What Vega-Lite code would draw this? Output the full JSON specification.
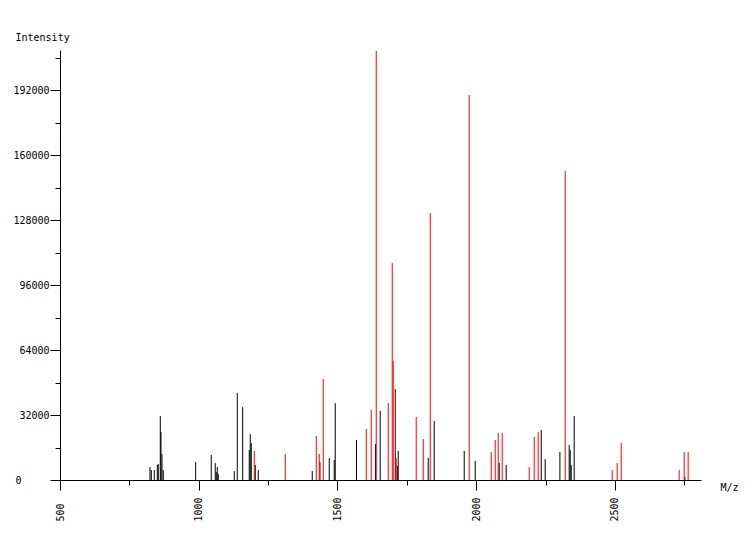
{
  "$schema": "https://vega.github.io/schema/vega-lite/v6.json",
  "width": 641,
  "height": 430,
  "autosize": {"type": "none"},
  "padding": {"left": 60, "top": 50, "right": 49, "bottom": 60},
  "background": "white",
  "config": {
    "view": {"stroke": null},
    "axis": {"labelFont": "DejaVu Sans Mono", "titleFont": "DejaVu Sans Mono", "labelFontSize": 10, "titleFontSize": 10, "labelColor": "black", "titleColor": "black", "titleFontWeight": "normal", "domainColor": "black", "tickColor": "black", "grid": false}
  },
  "data": {"values": [
    {"mz": 824.3, "i": 6400, "s": "A"},
    {"mz": 829.0, "i": 4900, "s": "A"},
    {"mz": 839.8, "i": 4900, "s": "A"},
    {"mz": 850.6, "i": 7400, "s": "A"},
    {"mz": 854.2, "i": 7900, "s": "A"},
    {"mz": 861.4, "i": 31500, "s": "A"},
    {"mz": 863.9, "i": 23600, "s": "A"},
    {"mz": 867.5, "i": 12800, "s": "A"},
    {"mz": 872.2, "i": 4900, "s": "A"},
    {"mz": 988.9, "i": 8900, "s": "A"},
    {"mz": 1045.1, "i": 12300, "s": "A"},
    {"mz": 1059.5, "i": 8400, "s": "A"},
    {"mz": 1063.1, "i": 3900, "s": "A"},
    {"mz": 1066.7, "i": 6400, "s": "A"},
    {"mz": 1070.4, "i": 3000, "s": "A"},
    {"mz": 1128.0, "i": 4400, "s": "A"},
    {"mz": 1138.8, "i": 42800, "s": "A"},
    {"mz": 1158.3, "i": 35900, "s": "A"},
    {"mz": 1182.0, "i": 14800, "s": "A"},
    {"mz": 1185.6, "i": 22600, "s": "A"},
    {"mz": 1189.3, "i": 18200, "s": "A"},
    {"mz": 1203.7, "i": 7400, "s": "A"},
    {"mz": 1214.5, "i": 4900, "s": "A"},
    {"mz": 1409.0, "i": 4400, "s": "A"},
    {"mz": 1436.8, "i": 8900, "s": "A"},
    {"mz": 1470.3, "i": 10800, "s": "A"},
    {"mz": 1488.3, "i": 9800, "s": "A"},
    {"mz": 1491.9, "i": 37900, "s": "A"},
    {"mz": 1568.3, "i": 19700, "s": "A"},
    {"mz": 1636.8, "i": 17700, "s": "A"},
    {"mz": 1654.0, "i": 34000, "s": "A"},
    {"mz": 1708.1, "i": 44800, "s": "A"},
    {"mz": 1715.3, "i": 6900, "s": "A"},
    {"mz": 1718.9, "i": 14300, "s": "A"},
    {"mz": 1827.0, "i": 10800, "s": "A"},
    {"mz": 1848.6, "i": 29000, "s": "A"},
    {"mz": 1956.7, "i": 14300, "s": "A"},
    {"mz": 1996.3, "i": 9400, "s": "A"},
    {"mz": 2082.8, "i": 8400, "s": "A"},
    {"mz": 2108.0, "i": 7400, "s": "A"},
    {"mz": 2234.1, "i": 24600, "s": "A"},
    {"mz": 2248.5, "i": 10300, "s": "A"},
    {"mz": 2301.5, "i": 13800, "s": "A"},
    {"mz": 2335.0, "i": 17200, "s": "A"},
    {"mz": 2338.6, "i": 14800, "s": "A"},
    {"mz": 2342.2, "i": 7400, "s": "A"},
    {"mz": 2353.0, "i": 31500, "s": "A"},
    {"mz": 2751.9, "i": 1600, "s": "A"},
    {"mz": 1200.1, "i": 14300, "s": "B"},
    {"mz": 1311.8, "i": 12800, "s": "B"},
    {"mz": 1423.5, "i": 21700, "s": "B"},
    {"mz": 1434.3, "i": 12800, "s": "B"},
    {"mz": 1448.7, "i": 49700, "s": "B"},
    {"mz": 1603.6, "i": 25100, "s": "B"},
    {"mz": 1621.6, "i": 34500, "s": "B"},
    {"mz": 1639.6, "i": 211200, "s": "B"},
    {"mz": 1682.9, "i": 37900, "s": "B"},
    {"mz": 1697.3, "i": 106800, "s": "B"},
    {"mz": 1700.9, "i": 58600, "s": "B"},
    {"mz": 1711.7, "i": 10800, "s": "B"},
    {"mz": 1783.7, "i": 31000, "s": "B"},
    {"mz": 1809.0, "i": 20200, "s": "B"},
    {"mz": 1834.2, "i": 131400, "s": "B"},
    {"mz": 1974.7, "i": 189500, "s": "B"},
    {"mz": 2054.0, "i": 13800, "s": "B"},
    {"mz": 2068.4, "i": 19700, "s": "B"},
    {"mz": 2079.2, "i": 23100, "s": "B"},
    {"mz": 2093.6, "i": 23100, "s": "B"},
    {"mz": 2190.9, "i": 6400, "s": "B"},
    {"mz": 2208.9, "i": 21200, "s": "B"},
    {"mz": 2223.3, "i": 23600, "s": "B"},
    {"mz": 2320.6, "i": 152100, "s": "B"},
    {"mz": 2489.9, "i": 4900, "s": "B"},
    {"mz": 2508.0, "i": 8400, "s": "B"},
    {"mz": 2522.4, "i": 18200, "s": "B"},
    {"mz": 2731.3, "i": 4900, "s": "B"},
    {"mz": 2749.3, "i": 13800, "s": "B"},
    {"mz": 2763.7, "i": 13800, "s": "B"}
  ]},
  "mark": {"type": "rule", "strokeWidth": 1},
  "encoding": {
    "x": {
      "field": "mz", "type": "quantitative",
      "scale": {"domain": [500, 2810], "nice": false, "zero": false},
      "axis": {
        "values": [500, 750, 1000, 1250, 1500, 1750, 2000, 2250, 2500, 2750],
        "format": "d",
        "labelExpr": "datum.value % 500 === 0 ? datum.label : ''",
        "tickSize": {"condition": {"test": "datum.value % 500 === 0", "value": 10}, "value": 5},
        "labelAngle": 270,
        "labelAlign": "left",
        "labelBaseline": "middle",
        "labelPadding": 31,
        "labelFlush": false,
        "labelOverlap": false,
        "title": "M/z",
        "titleX": 660,
        "titleY": 7,
        "titleAlign": "left",
        "titleBaseline": "middle",
        "titleAngle": 0
      }
    },
    "y": {
      "field": "i", "type": "quantitative",
      "scale": {"domain": [0, 211700], "nice": false},
      "axis": {
        "values": [0, 16000, 32000, 48000, 64000, 80000, 96000, 112000, 128000, 144000, 160000, 176000, 192000, 208000],
        "format": "d",
        "labelExpr": "datum.value % 32000 === 0 ? datum.label : ''",
        "tickSize": {"condition": {"test": "datum.value % 32000 === 0", "value": 10}, "value": 5},
        "labelPadding": {"condition": {"test": "datum.value === 0", "value": 29}, "value": 1},
        "labelOverlap": false,
        "labelFlush": false,
        "title": "Intensity",
        "titleAngle": 0,
        "titleX": -45,
        "titleY": -13,
        "titleAlign": "left",
        "titleBaseline": "middle"
      }
    },
    "y2": {"datum": 0},
    "color": {
      "field": "s", "type": "nominal",
      "scale": {"domain": ["A", "B"], "range": ["#000000", "#ff0000"]},
      "legend": null
    }
  }
}
